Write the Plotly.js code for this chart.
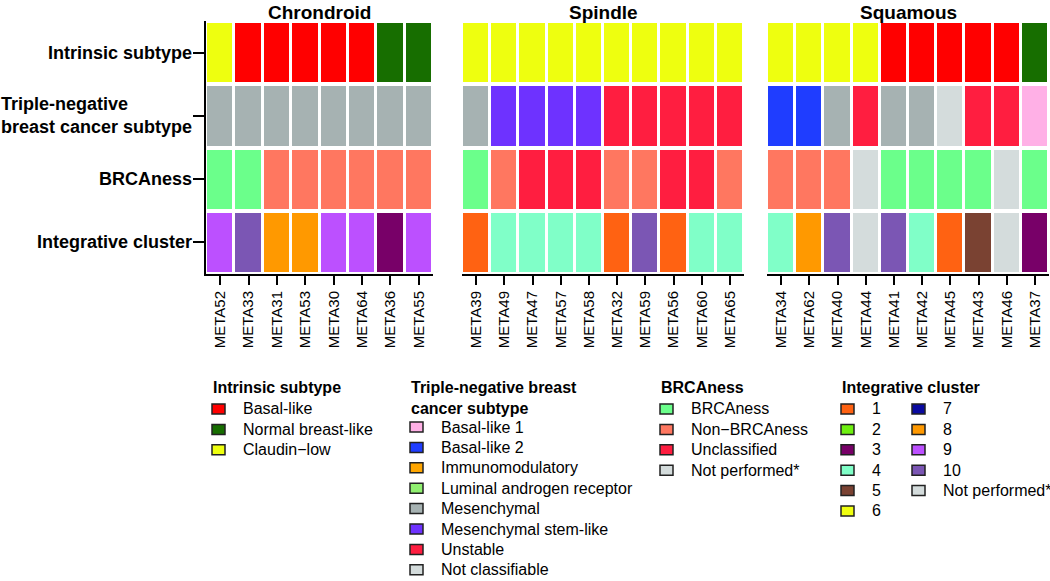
<!DOCTYPE html>
<html>
<head>
<meta charset="utf-8">
<script src="https://cdn.plot.ly/plotly-3.0.1.min.js"></script>
<style>
  html, body { margin: 0; padding: 0; background: #fff; }
  #chart { width: 1050px; height: 581px; }
</style>
</head>
<body>
<div id="chart"></div>
<script>
// heatmap rows, top to bottom
var rowNames = ['Intrinsic subtype', 'Triple-negative breast cancer subtype', 'BRCAness', 'Integrative cluster'];
var rowLabels = ['Intrinsic subtype', 'Triple-negative<br>breast cancer subtype', 'BRCAness', 'Integrative cluster'];

// legend levels + colours
var intrinsicLevels = ['Basal-like', 'Normal breast-like', 'Claudin−low'];
var intrinsicColors = ['#ff0000', '#176e00', '#eeff0f'];

var tnbcLevels = ['Basal-like 1', 'Basal-like 2', 'Immunomodulatory', 'Luminal androgen receptor',
                  'Mesenchymal', 'Mesenchymal stem-like', 'Unstable', 'Not classifiable'];
var tnbcColors = ['#ffb0e6', '#1f3dff', '#ffa600', '#90f070', '#a6b2b2', '#6e32ff', '#ff1e40', '#d4dcdc'];

var brcaLevels = ['BRCAness', 'Non−BRCAness', 'Unclassified', 'Not performed*'];
var brcaColors = ['#6bff8b', '#ff7760', '#ff1e40', '#d4dcdc'];

var icLevels = ['1', '2', '3', '4', '5', '6', '7', '8', '9', '10', 'Not performed*'];
var icColors = ['#ff6212', '#6ef010', '#780068', '#80ffc8', '#7a4232', '#f0ff10',
                '#0a0aa0', '#ff9900', '#bc50ff', '#7b56b4', '#d4dcdc'];

// Chrondroid
var chondroidSamples = ['META52', 'META33', 'META31', 'META53', 'META30', 'META64', 'META36', 'META55'];
var chondroidIntrinsic = ['Claudin−low', 'Basal-like', 'Basal-like', 'Basal-like', 'Basal-like', 'Basal-like',
                          'Normal breast-like', 'Normal breast-like'];
var chondroidTnbc = ['Mesenchymal', 'Mesenchymal', 'Mesenchymal', 'Mesenchymal', 'Mesenchymal', 'Mesenchymal',
                     'Mesenchymal', 'Mesenchymal'];
var chondroidBrca = ['BRCAness', 'BRCAness', 'Non−BRCAness', 'Non−BRCAness', 'Non−BRCAness', 'Non−BRCAness',
                     'Non−BRCAness', 'Non−BRCAness'];
var chondroidIc = ['9', '10', '8', '8', '9', '9', '3', '9'];

// Spindle
var spindleSamples = ['META39', 'META49', 'META47', 'META57', 'META58', 'META32', 'META59', 'META56', 'META60', 'META65'];
var spindleIntrinsic = ['Claudin−low', 'Claudin−low', 'Claudin−low', 'Claudin−low', 'Claudin−low',
                        'Claudin−low', 'Claudin−low', 'Claudin−low', 'Claudin−low', 'Claudin−low'];
var spindleTnbc = ['Mesenchymal', 'Mesenchymal stem-like', 'Mesenchymal stem-like', 'Mesenchymal stem-like',
                   'Mesenchymal stem-like', 'Unstable', 'Unstable', 'Unstable', 'Unstable', 'Unstable'];
var spindleBrca = ['BRCAness', 'Non−BRCAness', 'Unclassified', 'Unclassified', 'Unclassified',
                   'Non−BRCAness', 'Non−BRCAness', 'Unclassified', 'Unclassified', 'Non−BRCAness'];
var spindleIc = ['1', '4', '4', '4', '4', '1', '10', '1', '4', '4'];

// Squamous
var squamousSamples = ['META34', 'META62', 'META40', 'META44', 'META41', 'META42', 'META45', 'META43', 'META46', 'META37'];
var squamousIntrinsic = ['Claudin−low', 'Claudin−low', 'Claudin−low', 'Claudin−low', 'Basal-like',
                         'Basal-like', 'Basal-like', 'Basal-like', 'Basal-like', 'Normal breast-like'];
var squamousTnbc = ['Basal-like 2', 'Basal-like 2', 'Mesenchymal', 'Unstable', 'Mesenchymal',
                    'Mesenchymal', 'Not classifiable', 'Unstable', 'Unstable', 'Basal-like 1'];
var squamousBrca = ['Non−BRCAness', 'Non−BRCAness', 'Non−BRCAness', 'Not performed*', 'BRCAness',
                    'BRCAness', 'BRCAness', 'BRCAness', 'Not performed*', 'BRCAness'];
var squamousIc = ['4', '8', '10', 'Not performed*', '10', '4', '1', '5', 'Not performed*', '3'];

// one stepped colourscale for every level of every annotation
var groups = [
  {levels: intrinsicLevels, colors: intrinsicColors},
  {levels: tnbcLevels, colors: tnbcColors},
  {levels: brcaLevels, colors: brcaColors},
  {levels: icLevels, colors: icColors}
];
var palette = [];
groups.forEach(function(g) {
  g.offset = palette.length;
  palette = palette.concat(g.colors);
});
var N = palette.length;
var colorscale = [];
palette.forEach(function(c, i) {
  colorscale.push([i / N, c]);
  colorscale.push([(i + 1) / N, c]);
});

function codes(rows) {
  return rows.map(function(vals, r) {
    return vals.map(function(v) { return groups[r].offset + groups[r].levels.indexOf(v); });
  });
}

var W = 1050, H = 581;
function px(x) { return x / W; }
function py(y) { return 1 - y / H; }

var panels = [
  {title: 'Chrondroid', samples: chondroidSamples,
   rows: [chondroidIntrinsic, chondroidTnbc, chondroidBrca, chondroidIc], x0: 206, x1: 433},
  {title: 'Spindle', samples: spindleSamples,
   rows: [spindleIntrinsic, spindleTnbc, spindleBrca, spindleIc], x0: 462, x1: 744},
  {title: 'Squamous', samples: squamousSamples,
   rows: [squamousIntrinsic, squamousTnbc, squamousBrca, squamousIc], x0: 767, x1: 1049}
];

var yDomain = [py(274), py(21)];
var font = 'Liberation Sans, Arial, Helvetica, sans-serif';

var data = [];
var layout = {
  width: W, height: H,
  margin: {l: 0, r: 0, t: 0, b: 0},
  paper_bgcolor: '#fff', plot_bgcolor: '#fff',
  font: {family: font, color: '#000'},
  showlegend: false,
  annotations: [],
  shapes: []
};

panels.forEach(function(p, i) {
  var sfx = i === 0 ? '' : String(i + 1);
  data.push({
    type: 'heatmap',
    x: p.samples,
    y: rowNames,
    z: codes(p.rows),
    text: p.rows,
    hoverinfo: 'x+y+text',
    colorscale: colorscale,
    zmin: -0.5, zmax: N - 0.5,
    showscale: false,
    xgap: 3, ygap: 4,
    xaxis: 'x' + sfx, yaxis: 'y' + sfx
  });
  layout['xaxis' + sfx] = {
    domain: [px(p.x0), px(p.x1)], anchor: 'y' + sfx, type: 'category',
    showline: true, linecolor: '#000', linewidth: 2,
    ticks: 'outside', ticklen: 9, tickwidth: 1.5, tickcolor: '#000',
    tickangle: -90, tickfont: {size: 15}, showgrid: false, zeroline: false, fixedrange: true
  };
  layout['yaxis' + sfx] = {
    domain: yDomain, anchor: 'x' + sfx, type: 'category', autorange: 'reversed',
    showline: i === 0, linecolor: '#000', linewidth: 2,
    ticks: i === 0 ? 'outside' : '', ticklen: 11, tickwidth: 1.5, tickcolor: '#000',
    showticklabels: false, showgrid: false, zeroline: false, fixedrange: true
  };
  layout.annotations.push({
    text: '<b>' + p.title + '</b>', xref: 'x' + sfx + ' domain', x: 0.5, yref: 'paper', y: 1,
    xanchor: 'center', yanchor: 'top', showarrow: false, font: {size: 19}
  });
});

// row labels to the left of the first panel
rowNames.forEach(function(r, i) {
  layout.annotations.push({
    text: '<b>' + rowLabels[i] + '</b>', xref: 'paper', x: px(194), yref: 'y', y: r,
    xanchor: 'right', yanchor: 'middle', align: 'left', showarrow: false, font: {size: 18}
  });
});

// legend blocks below the heatmaps
var legendBlocks = [
  {title: 'Intrinsic subtype', g: 0, sx: 212, tx: 241, y0: 409, perCol: 99},
  {title: 'Triple-negative breast<br>cancer subtype', g: 1, sx: 410, tx: 439, y0: 427, perCol: 99},
  {title: 'BRCAness', g: 2, sx: 660, tx: 689, y0: 409, perCol: 99},
  {title: 'Integrative cluster', g: 3, sx: 841, tx: 870, y0: 409, perCol: 6, colStep: 71}
];
var step = 20.4;
legendBlocks.forEach(function(b) {
  var g = groups[b.g];
  layout.annotations.push({
    text: '<b>' + b.title + '</b>', xref: 'paper', yref: 'paper', x: px(b.sx - 1), y: py(377),
    xanchor: 'left', yanchor: 'top', align: 'left', showarrow: false, font: {size: 16}
  });
  g.levels.forEach(function(lv, k) {
    var col = Math.floor(k / b.perCol), rowk = k % b.perCol;
    var dx = col * (b.colStep || 0);
    var yc = b.y0 + rowk * step;
    layout.shapes.push({
      type: 'rect', xref: 'paper', yref: 'paper',
      x0: px(b.sx + dx), x1: px(b.sx + dx + 13), y0: py(yc - 5), y1: py(yc + 5),
      fillcolor: g.colors[k], line: {color: '#222', width: 1.5}
    });
    layout.annotations.push({
      text: lv, xref: 'paper', yref: 'paper', x: px(b.tx + dx), y: py(yc),
      xanchor: 'left', yanchor: 'middle', showarrow: false, font: {size: 16}
    });
  });
});

Plotly.newPlot('chart', data, layout, {displayModeBar: false});
</script>
</body>
</html>
